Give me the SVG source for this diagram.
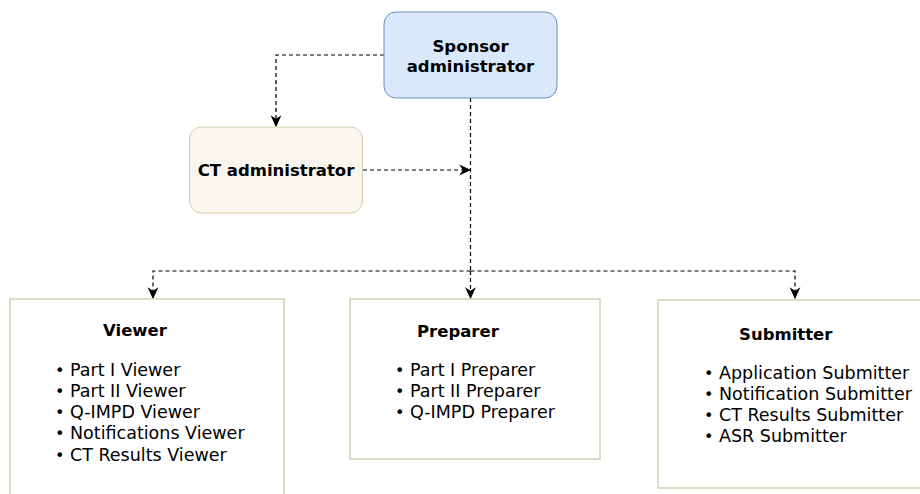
<svg xmlns="http://www.w3.org/2000/svg" width="920" height="494" viewBox="0 0 920 494">
<defs>
<marker id="arr" viewBox="0 0 10 10" refX="9" refY="5" markerWidth="12" markerHeight="12" markerUnits="userSpaceOnUse" orient="auto">
<path d="M0,0.5 L10,5 L0,9.5 L3,5 Z" fill="#000"/>
</marker>
<style>
.t{font-family:"DejaVu Sans",Verdana,sans-serif;fill:#000}
.b{font-weight:bold;font-size:16.5px}
.i{font-size:17.5px}
.d{font-family:"DejaVu Sans",Verdana,sans-serif;fill:#000;font-size:16px}
.edge{fill:none;stroke:#000;stroke-width:1.2;stroke-dasharray:4 3}
.plain{fill:#fff;stroke:#d6cfb4;stroke-width:1.5}
</style>
</defs>
<rect width="920" height="494" fill="#fff"/>
<g id="connectors">
<path class="edge" d="M384,55 H276 V126" marker-end="url(#arr)"/>
<path class="edge" d="M363,170 H470" marker-end="url(#arr)"/>
<path class="edge" d="M470.5,98 V271"/>
<path class="edge" d="M470.5,271 H153 V298" marker-end="url(#arr)"/>
<path class="edge" d="M470.5,271 V298" marker-end="url(#arr)"/>
<path class="edge" d="M470.5,271 H795 V298" marker-end="url(#arr)"/>
</g>
<g id="sponsor">
<rect x="384" y="12" width="173" height="86" rx="12" fill="#dae8fc" stroke="#6c8ebf" stroke-width="1"/>
<text class="t b" x="470.5" y="52" text-anchor="middle">Sponsor</text>
<text class="t b" x="470.5" y="72" text-anchor="middle">administrator</text>
</g>
<g id="ct-admin">
<rect x="189.5" y="127" width="173" height="86" rx="12" fill="#f9f7ed" stroke="#d6cfb4" stroke-width="1"/>
<text class="t b" x="276" y="176" text-anchor="middle">CT administrator</text>
</g>
<g id="viewer">
<rect class="plain" x="10" y="299" width="274" height="200"/>
<text class="t b" x="103" y="336">Viewer</text>
<g class="d"><text x="55" y="376">•</text><text x="55" y="397">•</text><text x="55" y="418">•</text><text x="55" y="439">•</text><text x="55" y="461">•</text></g>
<text class="t i" x="70" y="376">Part I Viewer</text>
<text class="t i" x="70" y="397">Part II Viewer</text>
<text class="t i" x="70" y="418">Q-IMPD Viewer</text>
<text class="t i" x="70" y="439">Notifications Viewer</text>
<text class="t i" x="70" y="461">CT Results Viewer</text>
</g>
<g id="preparer">
<rect class="plain" x="350" y="299" width="250" height="160"/>
<text class="t b" x="417" y="337">Preparer</text>
<g class="d"><text x="395" y="376">•</text><text x="395" y="397">•</text><text x="395" y="418">•</text></g>
<text class="t i" x="410" y="376">Part I Preparer</text>
<text class="t i" x="410" y="397">Part II Preparer</text>
<text class="t i" x="410" y="418">Q-IMPD Preparer</text>
</g>
<g id="submitter">
<rect class="plain" x="658" y="300" width="280" height="188"/>
<text class="t b" x="739" y="340">Submitter</text>
<g class="d"><text x="704" y="379">•</text><text x="704" y="400">•</text><text x="704" y="421">•</text><text x="704" y="442">•</text></g>
<text class="t i" x="719" y="379">Application Submitter</text>
<text class="t i" x="719" y="400">Notification Submitter</text>
<text class="t i" x="719" y="421">CT Results Submitter</text>
<text class="t i" x="719" y="442">ASR Submitter</text>
</g>
</svg>
